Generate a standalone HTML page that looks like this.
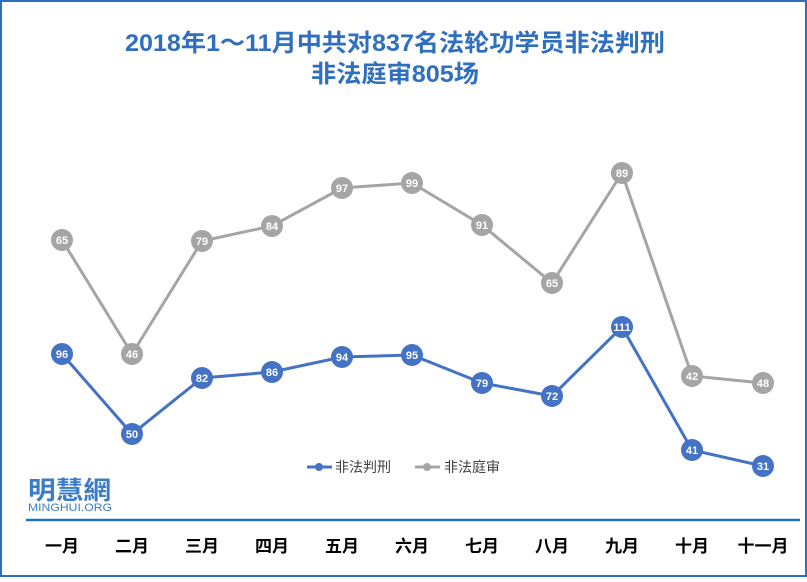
<!DOCTYPE html><html><head><meta charset="utf-8"><style>body{margin:0}svg text{font-family:"Liberation Sans","Noto Sans CJK SC",sans-serif}</style></head><body>
<svg width="807" height="577" xmlns="http://www.w3.org/2000/svg">
<rect x="1" y="1" width="805" height="575" fill="#fff" stroke="#2f6fc0" stroke-width="2"/>
<text x="395" y="51" text-anchor="middle" font-size="24" font-weight="bold" fill="#2f6fc0" textLength="540" lengthAdjust="spacingAndGlyphs">2018年1～11月中共对837名法轮功学员非法判刑</text>
<text x="395" y="82" text-anchor="middle" font-size="24" font-weight="bold" fill="#2f6fc0" textLength="168" lengthAdjust="spacingAndGlyphs">非法庭审805场</text>
<line x1="26" y1="520" x2="800" y2="520" stroke="#1a72c0" stroke-width="2.5"/>
<g font-size="17" font-weight="bold" text-anchor="middle" fill="#000">
<text x="62" y="552">一月</text><text x="132" y="552">二月</text><text x="202" y="552">三月</text><text x="272" y="552">四月</text><text x="342" y="552">五月</text><text x="412" y="552">六月</text><text x="482" y="552">七月</text><text x="552" y="552">八月</text><text x="622" y="552">九月</text><text x="692" y="552">十月</text><text x="763" y="552">十一月</text></g>
<polyline fill="none" stroke="#a5a5a5" stroke-width="3" points="62,240 132,354 202,241 272,226 342,188 412,183 482,225 552,283 622,173 692,376 763,383"/>
<polyline fill="none" stroke="#4472c4" stroke-width="3" points="62,354 132,434 202,378 272,372 342,357 412,355 482,383 552,396 622,327 692,450 763,466"/>
<g fill="#a5a5a5" font-size="11" font-weight="bold" text-anchor="middle">
<circle cx="62" cy="240" r="11"/><circle cx="132" cy="354" r="11"/><circle cx="202" cy="241" r="11"/><circle cx="272" cy="226" r="11"/><circle cx="342" cy="188" r="11"/><circle cx="412" cy="183" r="11"/><circle cx="482" cy="225" r="11"/><circle cx="552" cy="283" r="11"/><circle cx="622" cy="173" r="11"/><circle cx="692" cy="376" r="11"/><circle cx="763" cy="383" r="11"/>
<g fill="#fff"><text x="62" y="244">65</text><text x="132" y="358">46</text><text x="202" y="245">79</text><text x="272" y="230">84</text><text x="342" y="192">97</text><text x="412" y="187">99</text><text x="482" y="229">91</text><text x="552" y="287">65</text><text x="622" y="177">89</text><text x="692" y="380">42</text><text x="763" y="387">48</text></g></g>
<g fill="#4472c4" font-size="11" font-weight="bold" text-anchor="middle">
<circle cx="62" cy="354" r="11"/><circle cx="132" cy="434" r="11"/><circle cx="202" cy="378" r="11"/><circle cx="272" cy="372" r="11"/><circle cx="342" cy="357" r="11"/><circle cx="412" cy="355" r="11"/><circle cx="482" cy="383" r="11"/><circle cx="552" cy="396" r="11"/><circle cx="622" cy="327" r="11"/><circle cx="692" cy="450" r="11"/><circle cx="763" cy="466" r="11"/>
<g fill="#fff"><text x="62" y="358">96</text><text x="132" y="438">50</text><text x="202" y="382">82</text><text x="272" y="376">86</text><text x="342" y="361">94</text><text x="412" y="359">95</text><text x="482" y="387">79</text><text x="552" y="400">72</text><text x="622" y="331">111</text><text x="692" y="454">41</text><text x="763" y="470">31</text></g></g>
<line x1="307" y1="467" x2="332" y2="467" stroke="#4472c4" stroke-width="3"/><circle cx="319" cy="467" r="4" fill="#4472c4"/>
<text x="335" y="472" font-size="14" fill="#404040">非法判刑</text>
<line x1="415" y1="467" x2="440" y2="467" stroke="#a5a5a5" stroke-width="3"/><circle cx="427" cy="467" r="4" fill="#a5a5a5"/>
<text x="444" y="472" font-size="14" fill="#404040">非法庭审</text>
<text x="28" y="499" font-size="25" font-weight="bold" fill="#3a7cc8" textLength="83" lengthAdjust="spacingAndGlyphs">明慧網</text>
<text x="28" y="511" font-size="11" fill="#3a7cc8" font-family="Liberation Serif" textLength="84" lengthAdjust="spacingAndGlyphs">MINGHUI.ORG</text>
</svg></body></html>
